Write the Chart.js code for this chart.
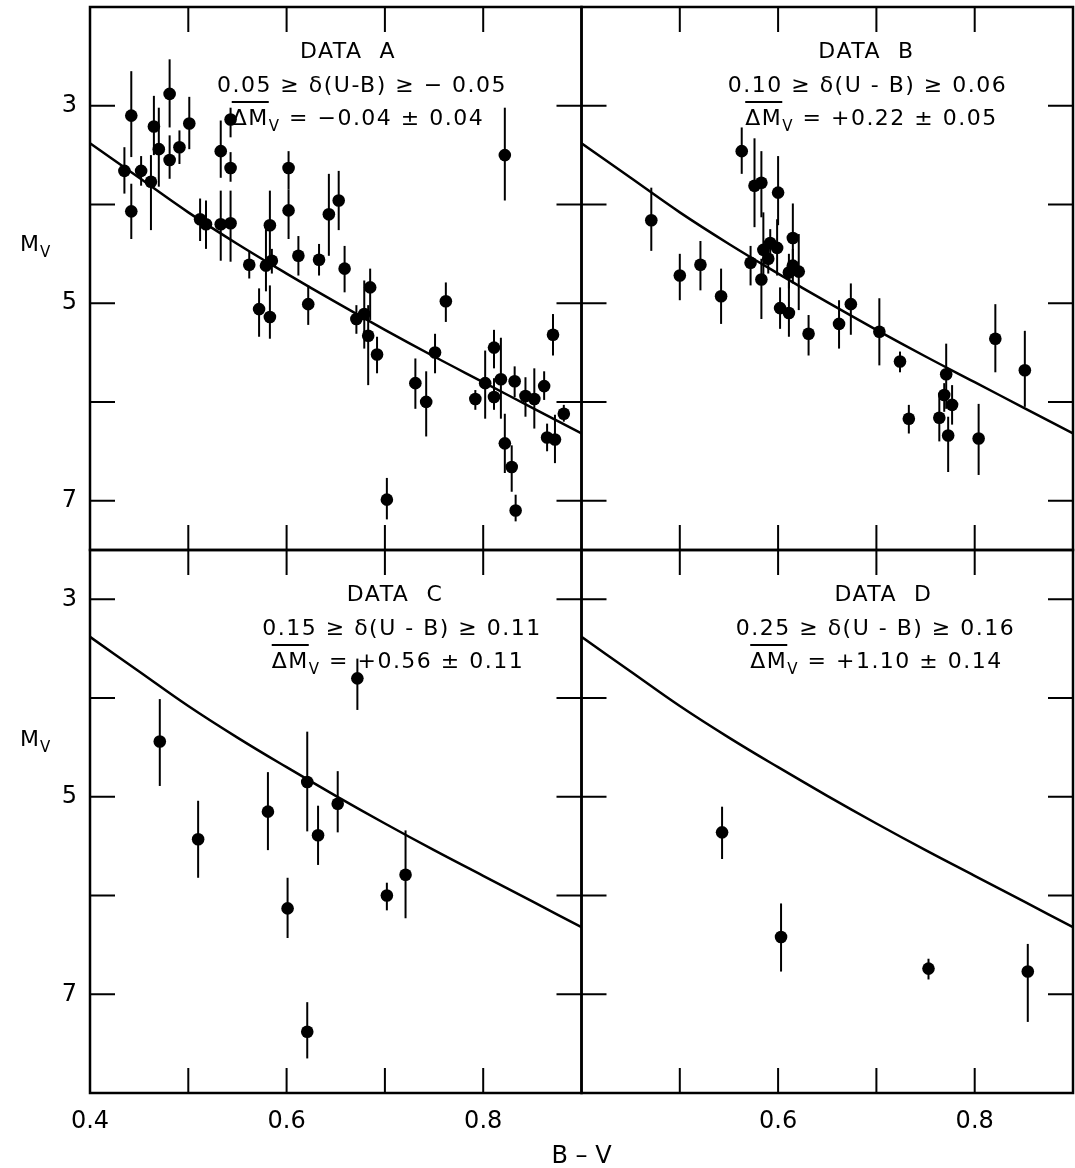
<!DOCTYPE html>
<html>
<head>
<meta charset="utf-8">
<script src="https://cdn.jsdelivr.net/npm/chart.js@4.4.0/dist/chart.umd.min.js"></script>
<style>
  body { margin: 0; background: #fff; }
  #wrap { position: relative; width: 1075px; height: 1168px; }
</style>
</head>
<body>
<div id="wrap"><canvas id="chart"></canvas></div>
<script>
// DATA A : B-V, Mv, error bar ends
const aBV = [0.435, 0.442, 0.442, 0.452, 0.462, 0.465, 0.470, 0.481, 0.481, 0.491, 0.501, 0.512, 0.518, 0.533, 0.533,
             0.543, 0.543, 0.543, 0.562, 0.572, 0.579, 0.583, 0.585, 0.583, 0.602, 0.602, 0.612, 0.622, 0.633, 0.643,
             0.653, 0.659, 0.671, 0.679, 0.683, 0.685, 0.692, 0.702, 0.731, 0.742, 0.751, 0.762, 0.792, 0.802, 0.811,
             0.811, 0.818, 0.822, 0.822, 0.829, 0.833, 0.832, 0.843, 0.852, 0.862, 0.865, 0.871, 0.873, 0.882];
const aMv = [3.66, 3.10, 4.07, 3.66, 3.77, 3.21, 3.44, 2.88, 3.55, 3.42, 3.18, 4.15, 4.20, 3.46, 4.20,
             3.14, 3.63, 4.19, 4.61, 5.06, 4.62, 4.21, 4.57, 5.14, 3.63, 4.06, 4.52, 5.01, 4.56, 4.10,
             3.96, 4.65, 5.16, 5.11, 5.33, 4.84, 5.52, 6.99, 5.81, 6.00, 5.50, 4.98, 5.97, 5.81, 5.45,
             5.95, 5.77, 3.50, 6.42, 6.66, 7.10, 5.79, 5.94, 5.97, 5.84, 6.36, 5.32, 6.38, 6.12];
const aLo = [3.42, 2.65, 3.79, 3.51, 3.50, 2.90, 3.02, 2.53, 3.30, 3.25, 2.91, 3.94, 3.96, 3.15, 3.86,
             3.02, 3.47, 3.86, 4.47, 4.85, 4.25, 3.86, 4.45, 4.82, 3.46, 3.85, 4.32, 4.82, 4.40, 3.69,
             3.66, 4.42, 5.02, 4.77, 5.02, 4.65, 5.34, 6.77, 5.56, 5.69, 5.31, 4.79, 5.88, 5.48, 5.27,
             5.76, 5.35, 3.02, 6.12, 6.44, 6.94, 5.64, 5.75, 5.66, 5.69, 6.22, 5.11, 6.13, 6.03];
const aHi = [3.89, 3.52, 4.35, 3.81, 4.26, 3.50, 3.82, 3.22, 3.74, 3.59, 3.44, 4.37, 4.45, 3.73, 4.57,
             3.32, 3.77, 4.58, 4.75, 5.34, 4.88, 4.62, 4.70, 5.36, 3.85, 4.35, 4.72, 5.22, 4.72, 4.52,
             4.26, 4.89, 5.31, 5.46, 5.83, 5.17, 5.71, 7.19, 6.07, 6.35, 5.71, 5.19, 6.08, 6.17, 5.66,
             6.08, 6.17, 3.96, 6.72, 6.91, 7.21, 5.95, 6.15, 6.27, 5.98, 6.50, 5.53, 6.62, 6.20];

// DATA B
const bBV = [0.471, 0.500, 0.521, 0.542, 0.563, 0.572, 0.576, 0.583, 0.583, 0.585, 0.592, 0.590, 0.600, 0.599, 0.602,
             0.611, 0.615, 0.615, 0.611, 0.621, 0.631, 0.662, 0.674, 0.703, 0.724, 0.733, 0.764, 0.771, 0.769, 0.777,
             0.773, 0.804, 0.821, 0.851];
const bMv = [4.16, 4.72, 4.61, 4.93, 3.46, 4.59, 3.81, 3.78, 4.76, 4.46, 4.39, 4.55, 3.88, 4.44, 5.05,
             5.10, 4.34, 4.62, 4.69, 4.68, 5.31, 5.21, 5.01, 5.29, 5.59, 6.17, 6.16, 5.72, 5.93, 6.03,
             6.34, 6.37, 5.36, 5.68];
const bLo = [3.83, 4.50, 4.37, 4.65, 3.22, 4.42, 3.33, 3.46, 4.55, 4.08, 4.25, 4.40, 3.51, 4.15, 4.84,
             4.79, 3.99, 4.45, 4.50, 4.30, 5.12, 4.97, 4.80, 4.95, 5.49, 6.03, 5.93, 5.41, 5.81, 5.83,
             6.15, 6.02, 5.01, 5.28];
const bHi = [4.47, 4.97, 4.87, 5.21, 3.69, 4.82, 4.23, 4.13, 5.16, 4.75, 4.52, 4.70, 4.21, 4.72, 5.26,
             5.34, 4.65, 4.80, 4.85, 5.07, 5.53, 5.46, 5.32, 5.63, 5.70, 6.32, 6.40, 6.07, 6.10, 6.23,
             6.71, 6.74, 5.70, 6.05];

// DATA C
const cBV = [0.471, 0.510, 0.581, 0.601, 0.621, 0.632, 0.652, 0.621, 0.672, 0.702, 0.721];
const cMv = [4.44, 5.43, 5.15, 6.13, 4.85, 5.39, 5.07, 7.38, 3.80, 6.00, 5.79];
const cLo = [4.01, 5.04, 4.75, 5.82, 4.34, 5.09, 4.74, 7.08, 3.60, 5.87, 5.34];
const cHi = [4.89, 5.82, 5.54, 6.43, 5.35, 5.69, 5.36, 7.65, 4.12, 6.15, 6.23];

// DATA D
const dBV = [0.543, 0.603, 0.753, 0.854];
const dMv = [5.36, 6.42, 6.74, 6.77];
const dLo = [5.10, 6.08, 6.64, 6.49];
const dHi = [5.63, 6.77, 6.85, 7.28];

// reference main sequence (same curve in every panel)
const curveBV = [0.40, 0.45, 0.50, 0.55, 0.60, 0.65, 0.70, 0.75, 0.80, 0.85, 0.90];
const curveMv = [3.38, 3.73, 4.08, 4.40, 4.70, 4.99, 5.27, 5.54, 5.80, 6.06, 6.32];

// ticks
const xMarks = [0.5, 0.6, 0.7, 0.8];
const yMarks = [3, 4, 5, 6, 7];
const xLabelsLeft = [0.4, 0.6, 0.8];
const xLabelsRight = [0.6, 0.8];
const yLabels = [3, 5, 7];

const panelText = [
    { x: 'xL', y: 'yT', title: 'DATA  A', range: '0.05 ≥ δ(U-B) ≥ − 0.05', delta: ' = −0.04 ± 0.04', cx: [258, 272, 268] },
    { x: 'xR', y: 'yT', title: 'DATA  B', range: '0.10 ≥ δ(U - B) ≥ 0.06', delta: ' = +0.22 ± 0.05', cx: [285, 286, 290] },
    { x: 'xL', y: 'yB', title: 'DATA  C', range: '0.15 ≥ δ(U - B) ≥ 0.11', delta: ' = +0.56 ± 0.11', cx: [305, 312, 308] },
    { x: 'xR', y: 'yB', title: 'DATA  D', range: '0.25 ≥ δ(U - B) ≥ 0.16', delta: ' = +1.10 ± 0.14', cx: [302, 294, 295] }
];

const FONT = '"DejaVu Sans", sans-serif';

function pts(xs, ys) {
    return xs.map((v, i) => ({ x: v, y: ys[i] }));
}

function starSet(xs, ys, lo, hi, xId, yId) {
    return {
        data: pts(xs, ys),
        errLo: lo,
        errHi: hi,
        xAxisID: xId,
        yAxisID: yId,
        pointRadius: 6.3,
        pointBackgroundColor: '#000',
        pointBorderWidth: 0,
        showLine: false
    };
}

function curveSet(xId, yId) {
    return {
        data: pts(curveBV, curveMv),
        xAxisID: xId,
        yAxisID: yId,
        showLine: true,
        borderColor: '#000',
        borderWidth: 2.5,
        pointRadius: 0,
        tension: 0.4
    };
}

// error bars, drawn under the dots
const errorBars = {
    id: 'errorBars',
    beforeDatasetsDraw(chart) {
        const ctx = chart.ctx;
        ctx.save();
        ctx.strokeStyle = '#000';
        ctx.lineWidth = 2;
        chart.data.datasets.forEach(ds => {
            if (!ds.errLo) return;
            const xs = chart.scales[ds.xAxisID];
            const ys = chart.scales[ds.yAxisID];
            ds.data.forEach((p, j) => {
                const px = xs.getPixelForValue(p.x);
                ctx.beginPath();
                ctx.moveTo(px, ys.getPixelForValue(ds.errLo[j]));
                ctx.lineTo(px, ys.getPixelForValue(ds.errHi[j]));
                ctx.stroke();
            });
        });
        ctx.restore();
    }
};

// panel frames, inward ticks and lettering
const frames = {
    id: 'frames',
    afterDraw(chart) {
        const ctx = chart.ctx;
        const tick = 25;
        ctx.save();
        ctx.strokeStyle = '#000';
        ctx.fillStyle = '#000';
        panelText.forEach(p => {
            const xs = chart.scales[p.x];
            const ys = chart.scales[p.y];
            const l = xs.left, r = xs.right, t = ys.top, b = ys.bottom;

            ctx.lineWidth = 2.5;
            ctx.strokeRect(l, t, r - l, b - t);

            ctx.lineWidth = 2;
            ctx.beginPath();
            yMarks.forEach(v => {
                const py = ys.getPixelForValue(v);
                ctx.moveTo(l, py); ctx.lineTo(l + tick, py);
                ctx.moveTo(r, py); ctx.lineTo(r - tick, py);
            });
            xMarks.forEach(v => {
                const px = xs.getPixelForValue(v);
                ctx.moveTo(px, t); ctx.lineTo(px, t + tick);
                ctx.moveTo(px, b); ctx.lineTo(px, b - tick);
            });
            ctx.stroke();

            // lettering
            ctx.textBaseline = 'middle';
            ctx.textAlign = 'center';
            ctx.letterSpacing = '1.5px';
            ctx.font = '22px ' + FONT;
            ctx.fillText(p.title, l + p.cx[0], t + 45);
            ctx.fillText(p.range, l + p.cx[1], t + 79);

            const y3 = t + 112;
            const big = '22px ' + FONT, small = '15px ' + FONT;
            ctx.font = big;
            const w1 = ctx.measureText('ΔM').width;
            const w3 = ctx.measureText(p.delta).width;
            ctx.font = small;
            const w2 = ctx.measureText('V').width;
            let x = l + p.cx[2] - (w1 + w2 + w3) / 2;
            ctx.textAlign = 'left';
            ctx.font = big;
            ctx.fillText('ΔM', x, y3);
            ctx.beginPath();
            ctx.moveTo(x, y3 - 17);
            ctx.lineTo(x + w1, y3 - 17);
            ctx.stroke();
            ctx.font = small;
            ctx.fillText('V', x + w1, y3 + 8);
            ctx.font = big;
            ctx.fillText(p.delta, x + w1 + w2, y3);
            ctx.letterSpacing = '0px';
        });

        // axis titles
        ctx.textBaseline = 'middle';
        ctx.textAlign = 'left';
        [chart.scales.yT, chart.scales.yB].forEach((ys, i) => {
            const yc = ys.top + (i === 0 ? 238 : 190);
            ctx.font = '22px ' + FONT;
            ctx.fillText('M', 20, yc);
            const w = ctx.measureText('M').width;
            ctx.font = '15px ' + FONT;
            ctx.fillText('V', 20 + w + 1, yc + 8);
        });
        ctx.textAlign = 'center';
        ctx.font = '24px ' + FONT;
        ctx.fillText('B – V', chart.scales.xL.right, 1157);
        ctx.restore();
    }
};

function xAxis(labels) {
    return {
        type: 'linear',
        position: 'bottom',
        stack: 'bv',
        stackWeight: 1,
        min: 0.4,
        max: 0.9,
        grid: { display: false, drawTicks: false },
        border: { display: false },
        ticks: {
            autoSkip: false,
            maxRotation: 0,
            padding: 14,
            color: '#000',
            font: { family: FONT, size: 24 },
            callback: v => v.toFixed(1)
        },
        afterBuildTicks: s => { s.ticks = labels.map(v => ({ value: v })); },
        afterFit: s => {
            s.height = 75;
            s.paddingLeft = 0; s.paddingRight = 0; s.paddingTop = 0; s.paddingBottom = 0;
        }
    };
}

function yAxis(min, max) {
    return {
        type: 'linear',
        position: 'left',
        stack: 'mv',
        stackWeight: 1,
        min: min,
        max: max,
        reverse: true,
        grid: { display: false, drawTicks: false },
        border: { display: false },
        ticks: {
            autoSkip: false,
            padding: 13,
            color: '#000',
            font: { family: FONT, size: 24 },
            callback: v => String(v)
        },
        afterBuildTicks: s => { s.ticks = yLabels.map(v => ({ value: v })); },
        afterFit: s => {
            s.width = 90;
            s.paddingLeft = 0; s.paddingRight = 0; s.paddingTop = 0; s.paddingBottom = 0;
        }
    };
}

const chart = new Chart(document.getElementById('chart'), {
    type: 'scatter',
    data: {
        datasets: [
            curveSet('xL', 'yT'), curveSet('xR', 'yT'), curveSet('xL', 'yB'), curveSet('xR', 'yB'),
            starSet(aBV, aMv, aLo, aHi, 'xL', 'yT'),
            starSet(bBV, bMv, bLo, bHi, 'xR', 'yT'),
            starSet(cBV, cMv, cLo, cHi, 'xL', 'yB'),
            starSet(dBV, dMv, dLo, dHi, 'xR', 'yB')
        ]
    },
    options: {
        responsive: true,
        maintainAspectRatio: false,
        animation: false,
        layout: { autoPadding: false, padding: { top: 7, right: 2, left: 0, bottom: 0 } },
        plugins: {
            legend: { display: false },
            tooltip: { enabled: false }
        },
        scales: {
            xL: xAxis(xLabelsLeft),
            xR: xAxis(xLabelsRight),
            yB: yAxis(2.5, 8),
            yT: yAxis(2, 7.5)
        }
    },
    plugins: [errorBars, frames]
});
</script>
</body>
</html>
